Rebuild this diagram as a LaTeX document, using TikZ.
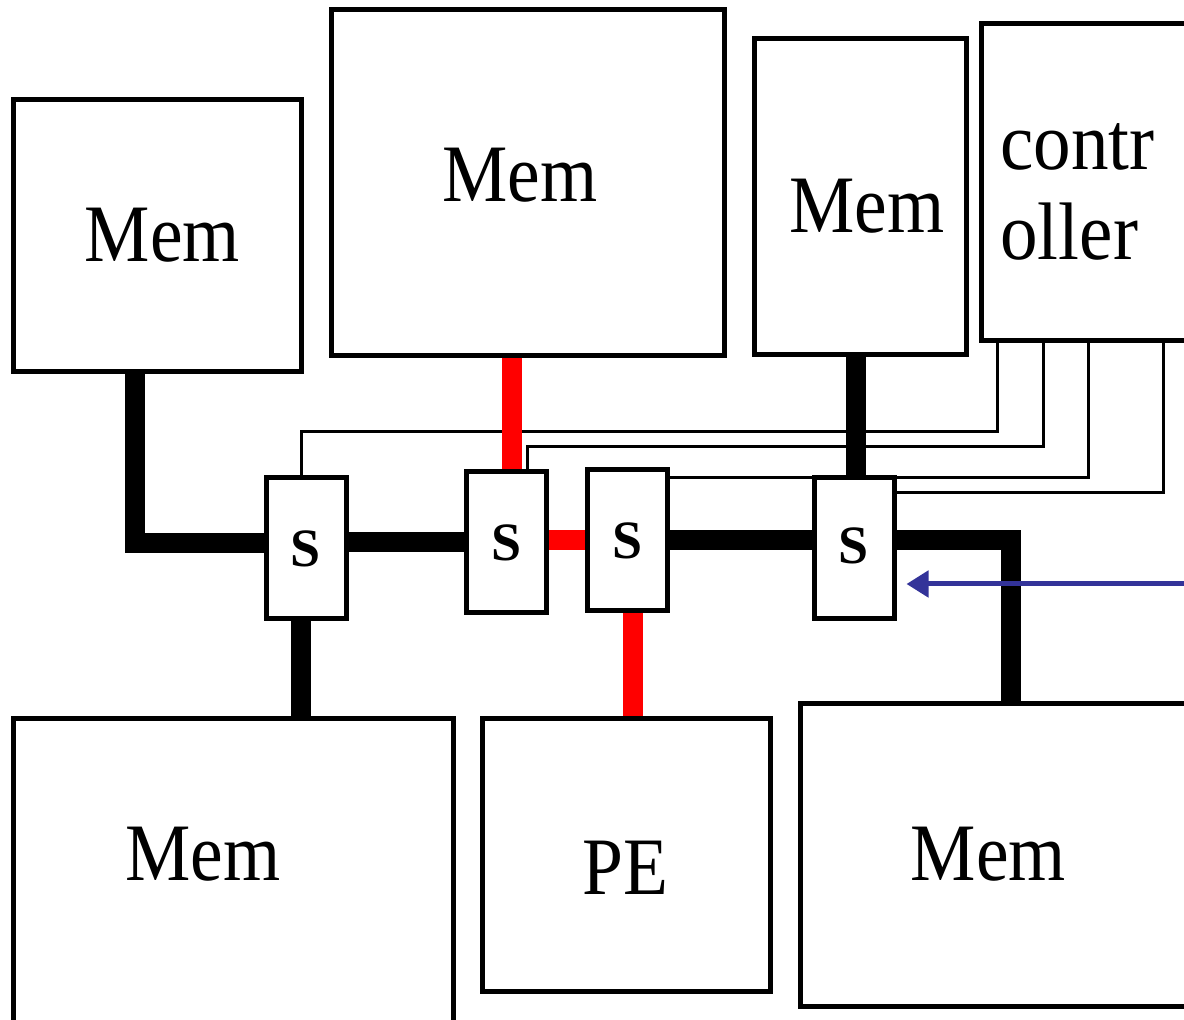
\documentclass[tikz,border=0pt]{standalone}
\usepackage{fontspec}
\usepackage{graphicx}
\setmainfont{Liberation Serif}[BoldFont={Liberation Serif Bold}]
\usetikzlibrary{arrows.meta}
\definecolor{arrowblue}{RGB}{51,51,153}
\pgfdeclarelayer{back}
\pgfdeclarelayer{bg}
\pgfsetlayers{back,bg,main}
\newcommand{\narrow}[1]{\scalebox{0.9}[1]{#1}}
\begin{document}
\begin{tikzpicture}[x=0.5pt,y=-0.5pt,
  box/.style={draw, line width=2.5pt, fill=white, rectangle, inner sep=0pt},
  sw/.style={box, minimum width=40pt, minimum height=70.5pt, font=\fontsize{27}{27}\selectfont\bfseries},
  lbl/.style={inner sep=0pt, font=\fontsize{40.8}{41}\selectfont},
  bus/.style={line width=10pt, line join=miter},
  redbus/.style={bus, draw=red},
  wire/.style={line width=1.5pt, line join=miter},
  barrow/.style={draw=arrowblue, line width=2.5pt, shorten >=5pt, -{Triangle[length=11pt,width=13pt]}}]
\clip (0,0) rectangle (1184,1020);
\begin{pgfonlayer}{back}
\fill[white] (0,0) rectangle (1184,1020);
\end{pgfonlayer}
% boxes
\node[box, minimum width=144pt, minimum height=136pt] (m1) at (157,236) {};
\node[box, minimum width=196.5pt, minimum height=173pt] (m2) at (527.5,183) {};
\node[box, minimum width=106pt, minimum height=158pt] (m3) at (860,197) {};
\node[box, minimum width=109.5pt, minimum height=158.5pt] (ctrl) at (1090.5,182.5) {};
\node[box, minimum width=220pt, minimum height=160.5pt] (m4) at (233,879.5) {};
\node[box, minimum width=144pt, minimum height=136.5pt] (pe) at (626,855.5) {};
\node[box, minimum width=200pt, minimum height=151pt] (m5) at (1000,855) {};
% switches
\node[sw] (s1) at (306,548.5) {S};
\node[sw] (s2) at (506.5,542.5) {S};
\node[sw] (s3) at (627.5,540.5) {S};
\node[sw] (s4) at (854,548.5) {\raisebox{3pt}{S}};
% labels
\node[lbl] (m1t) at (162.5,235) {\narrow{Mem}};
\node[lbl] (m2t) at (520,175.5) {\narrow{Mem}};
\node[lbl] (m3t) at (867,206) {\narrow{Mem}};
\node[lbl] (m4t) at (203,854) {\narrow{Mem}};
\node[lbl] (m5t) at (988.5,854) {\narrow{Mem}};
\node[lbl] (pet) at (625.5,868) {\narrow{PE}};
\node[lbl, anchor=base west] (ct1) at (1000,170) {\scalebox{0.92}[1]{contr}};
\node[lbl, anchor=base west] (ct2) at (1000,260) {\scalebox{0.92}[1]{oller}};
% helper coordinates
\coordinate (c1) at (135,543);
\coordinate (c2) at (1011,540);
\coordinate (xr2) at (512,0);
\coordinate (xm3) at (856,0);
\coordinate (xm4) at (301,0);
\coordinate (xpe) at (633,0);
\coordinate (w1) at (997,432);
\coordinate (w1b) at (301,432);
\coordinate (w2) at (1043,447);
\coordinate (w2b) at (527,447);
\coordinate (w3) at (1088,478);
\coordinate (w4) at (1163,493);
\coordinate (bin) at (1184,584);
\begin{pgfonlayer}{bg}
% control wires
\draw[wire] (ctrl.south -| w1) -- (w1) -- (w1b) -- (s1.north -| w1b);
\draw[wire] (ctrl.south -| w2) -- (w2) -- (w2b) -- (s2.north -| w2b);
\draw[wire] (ctrl.south -| w3) -- (w3) -- (s3.east |- w3);
\draw[wire] (ctrl.south -| w4) -- (w4) -- (s4.east |- w4);
% buses
\draw[bus] (m1.south -| c1) -- (c1) -- (s1.west |- c1);
\draw[bus] (s1.east |- s2.west) -- (s2.west);
\draw[redbus] (s2.east |- s3.west) -- (s3.west);
\draw[bus] (s3.east) -- (s4.west |- s3.east);
\draw[bus] (s4.east |- c2) -- (c2) -- (m5.north -| c2);
\draw[redbus] (m2.south -| xr2) -- (s2.north -| xr2);
\draw[bus] (m3.south -| xm3) -- (s4.north -| xm3);
\draw[bus] (s1.south -| xm4) -- (m4.north -| xm4);
\draw[redbus] (s3.south -| xpe) -- (pe.north -| xpe);
\end{pgfonlayer}
% blue arrow
\draw[barrow] (bin) -- (s4.east |- bin);
\end{tikzpicture}
\end{document}
